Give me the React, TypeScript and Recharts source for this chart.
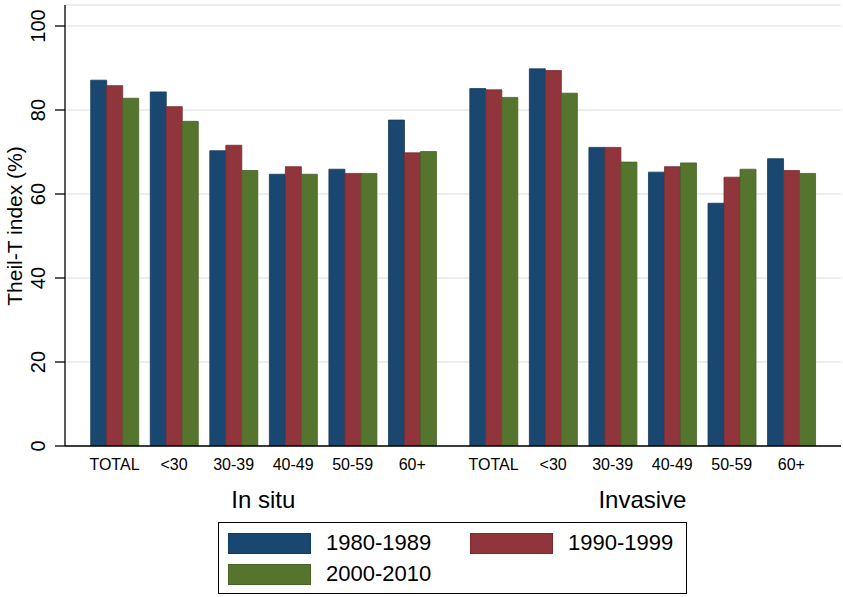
import React from 'react';
import { BarChart, Bar, XAxis, YAxis, CartesianGrid, Legend, ReferenceLine } from 'recharts';

const categories = ['TOTAL', '<30', '30-39', '40-49', '50-59', '60+'];
const groups = ['In situ', 'Invasive'];
const series1980 = [87.1, 84.3, 70.3, 64.7, 65.9, 77.6, 85.1, 89.8, 71.1, 65.2, 57.8, 68.4];
const series1990 = [85.8, 80.8, 71.6, 66.5, 64.9, 69.8, 84.8, 89.4, 71.1, 66.5, 64.0, 65.6];
const series2000 = [82.8, 77.3, 65.6, 64.7, 64.9, 70.1, 83.0, 84.0, 67.6, 67.4, 65.9, 64.9];
const seriesNames = ['1980-1989', '1990-1999', '2000-2010'];
const yTicks = [0, 20, 40, 60, 80, 100];

const GROUP_GAP = 1.366;
const COLORS = ['#1a476f', '#90353b', '#55752f'];
const STROKES = ['#143a5c', '#7a2b31', '#466226'];
const FONT = '"Liberation Sans", Arial, sans-serif';

const positions: number[] = [];
const labels: string[] = [];
const data: any[] = [];
groups.forEach((g, gi) => {
  categories.forEach((c, ci) => {
    const idx = gi * categories.length + ci;
    const pos = ci + gi * (categories.length - 1 + GROUP_GAP);
    positions.push(pos);
    labels.push(c);
    data.push({ x: pos, a: series1980[idx], b: series1990[idx], c: series2000[idx] });
  });
});
const groupPositions = groups.map((_, gi) => {
  const first = positions[gi * categories.length];
  const last = positions[gi * categories.length + categories.length - 1];
  return (first + last) / 2;
});

const CatTick = (props: any) => {
  const { x, y, payload } = props;
  const i = positions.indexOf(payload.value);
  return (
    <text x={x} y={y + 24} textAnchor="middle" fontSize={16} fontFamily={FONT} fill="#000">
      {labels[i]}
    </text>
  );
};

const GroupLabel = (props: any) => {
  const { viewBox, value } = props;
  if (!viewBox) return null;
  const x = viewBox.x;
  const y = viewBox.y + viewBox.height;
  return (
    <text x={x} y={y + 62} textAnchor="middle" fontSize={24} fontFamily={FONT} fill="#000">
      {value}
    </text>
  );
};

const YTick = (props: any) => {
  const { y, payload } = props;
  const x = 45;
  return (
    <text x={x} y={y} transform={`rotate(-90, ${x}, ${y})`} textAnchor="middle" fontSize={20} fontFamily={FONT} fill="#000">
      {payload.value}
    </text>
  );
};

const YTitle = () => {
  const x = 22;
  const y = 226;
  return (
    <text x={x} y={y} transform={`rotate(-90, ${x}, ${y})`} textAnchor="middle" fontSize={21} fontFamily={FONT} fill="#000">
      Theil-T index (%)
    </text>
  );
};

const LegendBox = () => {
  const item = (i: number, left: number, top: number) => (
    <div key={i} style={{ position: 'absolute', left, top, display: 'flex', alignItems: 'center' }}>
      <div style={{ width: 83, height: 21, background: COLORS[i], border: `1px solid ${STROKES[i]}`, boxSizing: 'border-box' }} />
      <span style={{ marginLeft: 15, fontSize: 22, fontFamily: FONT, color: '#000', lineHeight: '22px' }}>{seriesNames[i]}</span>
    </div>
  );
  return (
    <div style={{ position: 'relative', width: 469, height: 72, border: '1px solid #000', boxSizing: 'border-box', background: '#fff' }}>
      {item(0, 9, 9)}
      {item(1, 251, 9)}
      {item(2, 9, 40)}
    </div>
  );
};

export default function App() {
  return (
    <div style={{ position: 'absolute', left: 0, top: 0, width: 843, height: 597, background: '#fff' }}>
      <BarChart width={843} height={597} data={data} margin={{ top: 5, right: 2, left: 0, bottom: 121 }} barGap={0}>
        <CartesianGrid horizontal={true} vertical={false} stroke="#e3e8eb" strokeWidth={1.5} />
        <XAxis
          dataKey="x"
          type="number"
          domain={[-0.831, 12.2]}
          ticks={positions}
          interval={0}
          height={30}
          tickLine={false}
          tickSize={0}
          tickMargin={0}
          axisLine={{ stroke: '#000', strokeWidth: 1.3 }}
          tick={<CatTick />}
          allowDataOverflow
        />
        <YAxis
          type="number"
          domain={[0, 105]}
          ticks={yTicks}
          interval={0}
          width={65}
          tickSize={10}
          tickLine={{ stroke: '#000', strokeWidth: 1.3 }}
          axisLine={{ stroke: '#000', strokeWidth: 1.3 }}
          tick={<YTick />}
          label={<YTitle />}
          allowDataOverflow
        />
        <Legend
          layout="horizontal"
          verticalAlign="middle"
          align="center"
          content={<LegendBox />}
          wrapperStyle={{ left: 218, top: 522, width: 469, height: 72 }}
        />
        <Bar dataKey="a" name={seriesNames[0]} fill={COLORS[0]} stroke={STROKES[0]} strokeWidth={0.8} barSize={16} isAnimationActive={false} />
        <Bar dataKey="b" name={seriesNames[1]} fill={COLORS[1]} stroke={STROKES[1]} strokeWidth={0.8} barSize={16} isAnimationActive={false} />
        <Bar dataKey="c" name={seriesNames[2]} fill={COLORS[2]} stroke={STROKES[2]} strokeWidth={0.8} barSize={16} isAnimationActive={false} />
        {groups.map((g, gi) => (
          <ReferenceLine
            key={g}
            x={groupPositions[gi]}
            stroke="none"
            ifOverflow="visible"
            label={<GroupLabel value={g} />}
          />
        ))}
      </BarChart>
    </div>
  );
}
